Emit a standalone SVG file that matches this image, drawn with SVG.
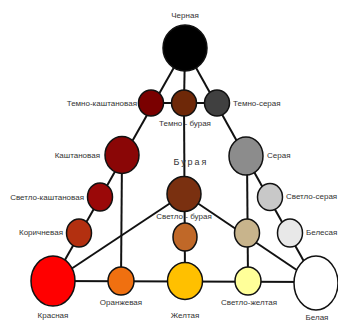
<svg xmlns="http://www.w3.org/2000/svg" width="338" height="324" viewBox="0 0 338 324">
<style>
.c{stroke:#111;stroke-width:1.5}
.l{stroke:#111;stroke-width:2;fill:none}
text{font-family:"Liberation Sans",Arial,sans-serif;font-size:8px;fill:#333}
.m{text-anchor:middle}
.e{text-anchor:end}
</style>
<rect width="338" height="324" fill="#fff"/>
<g id="connectors">
<line class="l" x1="185" y1="48" x2="53" y2="281"/>
<line class="l" x1="185" y1="48" x2="316" y2="283"/>
<line class="l" x1="185" y1="48" x2="184" y2="103"/>
<line class="l" x1="151" y1="103" x2="217" y2="103"/>
<line class="l" x1="184" y1="103" x2="185" y2="281"/>
<line class="l" x1="53" y1="281" x2="316" y2="282"/>
<line class="l" x1="122" y1="155" x2="121" y2="281"/>
<line class="l" x1="247" y1="156" x2="248" y2="281"/>
<line class="l" x1="184" y1="194" x2="53" y2="281"/>
<line class="l" x1="184" y1="194" x2="316" y2="283"/>
</g>
<g id="n-black"><ellipse class="c" cx="185" cy="48" rx="22" ry="23" fill="#000"/><text class="m" x="185" y="18">Черная</text></g>
<g id="n-dchestnut"><ellipse class="c" cx="151" cy="103" rx="12.5" ry="13" fill="#7a0000"/><text class="e" x="137" y="106">Темно-каштановая</text></g>
<g id="n-dbrown"><ellipse class="c" cx="184" cy="103" rx="12.5" ry="13" fill="#6e2808"/><text class="m" x="185" y="126">Темно - бурая</text></g>
<g id="n-dgray"><ellipse class="c" cx="217" cy="103" rx="12.5" ry="13" fill="#404040"/><text x="233" y="106">Темно-серая</text></g>
<g id="n-chestnut"><ellipse class="c" cx="122" cy="155" rx="17" ry="18.5" fill="#8a0606"/><text class="e" x="100" y="158">Каштановая</text></g>
<g id="n-lchestnut"><ellipse class="c" cx="100" cy="197" rx="12.5" ry="14" fill="#9a0808"/><text class="e" x="84" y="200">Светло-каштановая</text></g>
<g id="n-cinnamon"><ellipse class="c" cx="79" cy="233" rx="12.5" ry="14" fill="#b33010"/><text class="e" x="63" y="235">Коричневая</text></g>
<g id="n-red"><ellipse class="c" cx="53" cy="281" rx="22" ry="25" fill="#ff0000"/><text class="m" x="53" y="318">Красная</text></g>
<g id="n-orange"><ellipse class="c" cx="121" cy="281" rx="13" ry="14" fill="#f07010"/><text class="m" x="121" y="305">Оранжевая</text></g>
<g id="n-yellow"><ellipse class="c" cx="185" cy="281" rx="17.5" ry="18.5" fill="#ffc000"/><text class="m" x="185" y="318">Желтая</text></g>
<g id="n-lyellow"><ellipse class="c" cx="248" cy="281" rx="13" ry="14" fill="#ffff99"/><text class="m" x="249" y="305">Светло-желтая</text></g>
<g id="n-white"><ellipse class="c" cx="316" cy="283" rx="22" ry="27" fill="#fff"/><text class="m" x="317" y="320">Белая</text></g>
<g id="n-whitish"><ellipse class="c" cx="290" cy="233" rx="12.5" ry="14" fill="#e8e8e8"/><text x="306" y="235">Белесая</text></g>
<g id="n-lgray"><ellipse class="c" cx="270" cy="197" rx="12.5" ry="13.5" fill="#c8c8c8"/><text x="286" y="199">Светло-серая</text></g>
<g id="n-gray"><ellipse class="c" cx="246" cy="156" rx="17" ry="19" fill="#8c8c8c"/><text x="267" y="158">Серая</text></g>
<g id="n-tan"><ellipse class="c" cx="247" cy="233" rx="12.5" ry="14" fill="#c8b48c"/></g>
<g id="n-brown"><ellipse class="c" cx="184" cy="194" rx="17" ry="17.5" fill="#7a3010"/><text class="m" x="191" y="165" style="letter-spacing:2px;font-size:9px">Бурая</text></g>
<g id="n-lbrown"><ellipse class="c" cx="185" cy="237" rx="12" ry="14" fill="#c06828"/><text class="m" x="184" y="219">Светло - бурая</text></g>
</svg>
